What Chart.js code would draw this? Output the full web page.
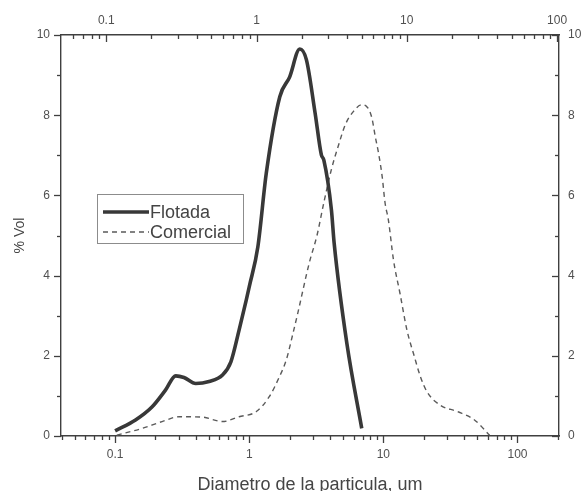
<!DOCTYPE html>
<html><head><meta charset="utf-8">
<script src="https://cdn.jsdelivr.net/npm/chart.js@4.4.0/dist/chart.umd.min.js"></script>
<style>html,body{margin:0;padding:0;background:#fff;overflow:hidden}#wrap{width:587px;height:491px;position:relative}</style>
</head><body><div id="wrap"><canvas id="c" width="587" height="491"></canvas></div>
<script>
const seriesLabels = ['Flotada', 'Comercial'];
const flotadaX = [0.1, 0.142, 0.189, 0.238, 0.283, 0.326, 0.399, 0.502, 0.632, 0.73, 0.84, 0.95, 1.0, 1.16, 1.34, 1.69, 2.0, 2.38, 2.67, 3.1, 3.45, 3.6, 4.1, 4.3, 5.35, 6.9];
const flotadaY = [0.13, 0.40, 0.73, 1.15, 1.50, 1.46, 1.31, 1.36, 1.52, 1.85, 2.64, 3.39, 3.72, 4.72, 6.55, 8.46, 8.95, 9.65, 9.38, 8.05, 7.01, 6.88, 5.64, 4.8, 2.3, 0.19];
const comercialX = [0.103, 0.159, 0.224, 0.3, 0.449, 0.632, 0.84, 1.13, 1.41, 1.68, 1.89, 2.12, 2.3, 2.8, 3.2, 3.6, 4.1, 4.6, 5.2, 5.97, 6.9, 7.5, 8.2, 8.7, 9.2, 9.8, 10.3, 10.9, 11.9, 13.3, 15.0, 16.9, 18.9, 21.1, 26.5, 35.6, 47.8, 62.0];
const comercialY = [0.02, 0.19, 0.36, 0.48, 0.47, 0.36, 0.48, 0.61, 0.98, 1.48, 1.90, 2.56, 3.06, 4.31, 5.0, 5.82, 6.65, 7.22, 7.76, 8.09, 8.26, 8.22, 7.94, 7.47, 7.06, 6.47, 5.81, 5.39, 4.39, 3.56, 2.64, 2.02, 1.48, 1.11, 0.77, 0.61, 0.40, 0.02];
const xMajorTicks = [0.1, 1, 10, 100];
const xTickLabels = ['0.1', '1', '10', '100'];
const yMajorTicks = [0, 2, 4, 6, 8, 10];
const yTickLabels = ['0', '2', '4', '6', '8', '10'];
const xTitle = 'Diametro de la particula, um';
const yTitle = '% Vol';

const FONT = "'Liberation Sans', Arial, sans-serif";
const TXT = '#505050';
const AX = '#404040';

function logTicks(scale) {
  const t = [];
  for (let e = -3; e <= 3; e++) {
    for (let m = 1; m <= 9; m++) {
      const v = +(m * Math.pow(10, e)).toPrecision(6);
      if (v >= scale.min * 1.0001 && v <= scale.max * 0.9999) t.push({ value: v });
    }
  }
  scale.ticks = t;
}
function linTicks(scale) {
  const t = [];
  for (let v = 0; v <= 10; v++) t.push({ value: v });
  scale.ticks = t;
}
function xLabel(v) {
  const i = xMajorTicks.findIndex(m => Math.abs(m - v) / m < 1e-6);
  return i >= 0 ? xTickLabels[i] : '';
}
function yLabel(v) {
  const i = yMajorTicks.indexOf(v);
  return i >= 0 ? yTickLabels[i] : '';
}
const isMajorX = v => xMajorTicks.some(m => Math.abs(m - v) / m < 1e-6);
const isMajorY = v => yMajorTicks.indexOf(v) >= 0;

const tickPlugin = {
  id: 'customTicks',
  afterDraw(chart) {
    const ctx = chart.ctx, a = chart.chartArea, s = chart.scales;
    ctx.save();
    ctx.strokeStyle = AX; ctx.lineWidth = 1.3;
    const line = (x1, y1, x2, y2) => { ctx.beginPath(); ctx.moveTo(x1, y1); ctx.lineTo(x2, y2); ctx.stroke(); };
    s.x.ticks.forEach(t => { const p = Math.round(s.x.getPixelForValue(t.value)) + 0.5; const L = isMajorX(t.value) ? 7 : 4; line(p, a.bottom, p, a.bottom + L); });
    s.x2.ticks.forEach(t => { const p = Math.round(s.x2.getPixelForValue(t.value)) + 0.5; const L = isMajorX(t.value) ? 7 : 4; line(p, a.top, p, a.top + L); });
    s.y.ticks.forEach(t => { const p = Math.round(s.y.getPixelForValue(t.value)) + 0.5; const L = isMajorY(t.value) ? 7 : 4; line(a.left, p, a.left - L, p); });
    s.y2.ticks.forEach(t => { const p = Math.round(s.y2.getPixelForValue(t.value)) + 0.5; const L = isMajorY(t.value) ? 7 : 4; line(a.right, p, a.right - L, p); });
    // legend
    const bx = 97.5, by = 194.5, bw = 146, bh = 49;
    ctx.fillStyle = '#fff'; ctx.fillRect(bx, by, bw, bh);
    ctx.strokeStyle = '#8c8c8c'; ctx.lineWidth = 1; ctx.strokeRect(bx, by, bw, bh);
    ctx.font = '18px ' + FONT; ctx.textBaseline = 'middle'; ctx.textAlign = 'left';
    chart.data.datasets.forEach((ds, i) => {
      const y = 212 + i * 20;
      ctx.strokeStyle = ds.borderColor; ctx.lineWidth = ds.borderWidth;
      ctx.setLineDash(ds.borderDash || []);
      line(103, y, 149, y);
      ctx.setLineDash([]);
      ctx.fillStyle = '#444';
      ctx.fillText(ds.label, 150, y + 1);
    });
    ctx.restore();
  }
};

new Chart(document.getElementById('c'), {
  type: 'line',
  data: {
    datasets: [
      { label: seriesLabels[0], data: flotadaX.map((x, i) => ({ x, y: flotadaY[i] })), borderColor: '#383838', borderWidth: 3.6, pointRadius: 0, cubicInterpolationMode: 'monotone', xAxisID: 'x', yAxisID: 'y' },
      { label: seriesLabels[1], data: comercialX.map((x, i) => ({ x, y: comercialY[i] })), borderColor: '#5a5a5a', borderWidth: 1.4, borderDash: [5, 4], pointRadius: 0, cubicInterpolationMode: 'monotone', xAxisID: 'x', yAxisID: 'y' }
    ]
  },
  options: {
    responsive: false, animation: false, devicePixelRatio: 1,
    layout: { padding: 0 },
    plugins: { legend: { display: false }, tooltip: { enabled: false } },
    scales: {
      x: {
        type: 'logarithmic', position: 'bottom', min: 0.0395, max: 204,
        afterBuildTicks: logTicks,
        afterFit: s => { s.height = 55; },
        grid: { display: false, drawTicks: false },
        border: { display: true, color: AX, width: 1.4 },
        ticks: { callback: v => xLabel(v), autoSkip: false, maxRotation: 0, padding: 11, color: TXT, font: { family: FONT, size: 12 } },
        title: { display: true, text: xTitle, color: '#454545', font: { family: FONT, size: 18, lineHeight: 0.8 }, padding: { top: 0, bottom: -1 } }
      },
      x2: {
        type: 'logarithmic', position: 'top', min: 0.05, max: 103, display: true,
        afterBuildTicks: logTicks,
        afterFit: s => { s.height = 35; },
        grid: { display: false, drawTicks: false },
        border: { display: true, color: AX, width: 1.4 },
        ticks: { callback: v => xLabel(v), autoSkip: false, maxRotation: 0, padding: 7, color: TXT, font: { family: FONT, size: 12 } }
      },
      y: {
        type: 'linear', position: 'left', min: 0, max: 10,
        afterBuildTicks: linTicks,
        afterFit: s => { s.width = 61; },
        grid: { display: false, drawTicks: false },
        border: { display: true, color: AX, width: 1.4 },
        ticks: { callback: v => yLabel(v), autoSkip: false, padding: 11, color: TXT, font: { family: FONT, size: 12 } },
        title: { display: true, text: yTitle, color: '#454545', font: { family: FONT, size: 14 }, padding: { top: 12, bottom: 0 } }
      },
      y2: {
        type: 'linear', position: 'right', min: 0, max: 10, display: true,
        afterBuildTicks: linTicks,
        afterFit: s => { s.width = 28; },
        grid: { display: false, drawTicks: false },
        border: { display: true, color: AX, width: 1.4 },
        ticks: { callback: v => yLabel(v), autoSkip: false, padding: 9, color: TXT, font: { family: FONT, size: 12 } }
      }
    }
  },
  plugins: [tickPlugin]
});
</script></body></html>
